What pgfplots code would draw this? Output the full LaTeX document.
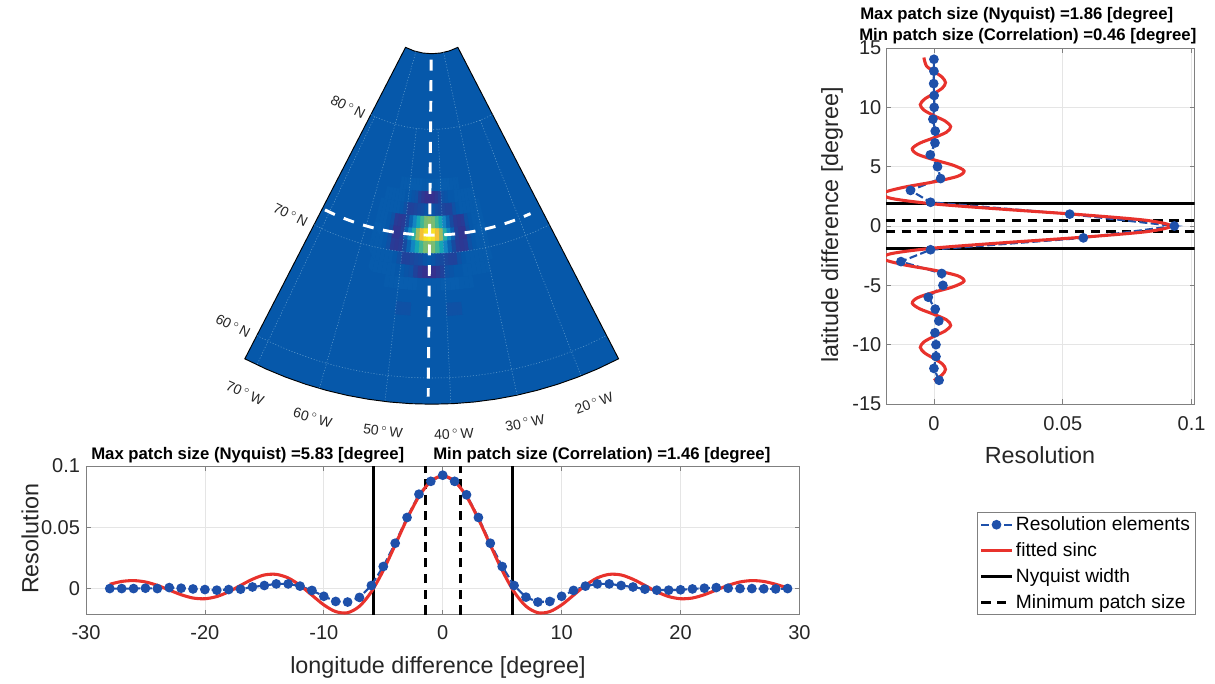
\documentclass[border=0pt]{standalone}
\usepackage{fontspec}
\usepackage{pgfplots}
\usepackage{pgfplotstable}
\pgfplotsset{compat=1.18}
\setmainfont{Liberation Sans}
\definecolor{mapbg}{RGB}{6,88,170}
\definecolor{bluedot}{RGB}{30,80,170}
\definecolor{fitred}{RGB}{232,50,44}
\definecolor{ticktxt}{RGB}{38,38,38}
\definecolor{gridblue}{RGB}{95,155,205}
\pgfplotsset{table/x index=0,table/y index=0}
\pgfplotsset{colormap={heat}{rgb255(0cm)=(58,45,140); rgb255(1.2cm)=(6,88,170); rgb255(2.6cm)=(20,125,195); rgb255(3.9cm)=(10,160,190); rgb255(5.2cm)=(45,180,160); rgb255(6.5cm)=(130,190,110); rgb255(7.8cm)=(205,185,75); rgb255(9.1cm)=(250,195,50); rgb255(10.4cm)=(248,240,30)}}
\pgfplotstableread[row sep=\\]{t\\-27.3\\-24\\-21\\-18\\-15\\-12\\-9\\-6\\-3\\0\\3\\6\\9\\12\\15\\18\\21\\24\\27.3\\}\arcT
\pgfplotstableread[row sep=\\]{t r\\
-27.3 407.5\\-24 407.5\\-21 407.5\\-18 407.5\\-15 407.5\\-12 407.5\\-9 407.5\\-6 407.5\\-3 407.5\\0 407.5\\3 407.5\\6 407.5\\9 407.5\\12 407.5\\15 407.5\\18 407.5\\21 407.5\\24 407.5\\27.3 407.5\\
27.3 57\\18 57\\9 57\\0 57\\-9 57\\-18 57\\-27.3 57\\}\sectorT
\pgfplotstableread[row sep=\\]{c\\
0\\0\\0\\0\\0\\0\\0\\0\\0\\0\\0\\0\\0\\0\\0\\0\\0\\0\\0\\0\\0\\0\\0\\0\\0\\0\\0\\0\\0\\
0\\0\\0\\0\\0\\1\\1\\1\\2\\2\\2\\2\\1\\1\\1\\1\\1\\2\\2\\2\\2\\1\\1\\1\\0\\0\\0\\0\\0\\
0\\1\\1\\1\\1\\1\\1\\0\\0\\-1\\-2\\-6\\-9\\-11\\-11\\-11\\-9\\-6\\-2\\-1\\0\\0\\1\\1\\1\\1\\1\\1\\0\\
1\\1\\1\\1\\1\\1\\0\\-2\\-6\\-6\\-5\\-4\\-3\\-1\\0\\-1\\-3\\-4\\-5\\-6\\-6\\-2\\0\\1\\1\\1\\1\\1\\1\\
1\\1\\1\\0\\-2\\-8\\-9\\-8\\-4\\4\\17\\31\\43\\52\\55\\52\\43\\31\\17\\4\\-4\\-8\\-9\\-8\\-2\\0\\1\\1\\1\\
2\\2\\1\\0\\-3\\-10\\-10\\-7\\3\\18\\37\\58\\77\\87\\92\\87\\77\\58\\37\\18\\3\\-7\\-10\\-10\\-3\\0\\1\\2\\2\\
1\\1\\1\\0\\-2\\-8\\-9\\-8\\-4\\4\\17\\31\\43\\52\\55\\52\\43\\31\\17\\4\\-4\\-8\\-9\\-8\\-2\\0\\1\\1\\1\\
1\\1\\1\\1\\1\\1\\0\\-2\\-6\\-6\\-5\\-4\\-3\\-1\\0\\-1\\-3\\-4\\-5\\-6\\-6\\-2\\0\\1\\1\\1\\1\\1\\1\\
0\\1\\1\\1\\1\\1\\1\\0\\0\\-1\\-2\\-6\\-9\\-11\\-11\\-11\\-9\\-6\\-2\\-1\\0\\0\\1\\1\\1\\1\\1\\1\\0\\
0\\0\\0\\0\\0\\1\\1\\1\\2\\2\\2\\2\\1\\1\\1\\1\\1\\2\\2\\2\\2\\1\\1\\1\\0\\0\\0\\0\\0\\
0\\0\\0\\0\\0\\0\\0\\0\\0\\0\\0\\0\\0\\0\\0\\0\\0\\0\\0\\0\\0\\0\\0\\0\\0\\0\\0\\0\\0\\
0\\0\\0\\0\\0\\0\\0\\0\\-2\\-2\\-2\\0\\0\\0\\0\\0\\0\\0\\-2\\-2\\-2\\0\\0\\0\\0\\0\\0\\0\\0\\
}\heatT
\pgfplotsset{
  sub/.style={
    scale only axis, tick align=inside, tick style={gray,line width=.5pt}, major tick length=3.5pt,
    axis line style={gray,line width=.7pt}, grid=major, grid style={black!10,line width=.5pt},
    scaled ticks=false, clip=true, axis on top=false, tick label style={font=\fontsize{15}{18}\selectfont,text=ticktxt},
  },
  bl/.style={bluedot,line width=1.6pt,dash pattern=on 6pt off 2.5pt,mark=*,mark size=2.8pt,mark options={solid,fill=bluedot,draw=bluedot}},
  rd/.style={fitred,line width=2.3pt,smooth},
  ny/.style={black,line width=2.3pt},
  mn/.style={black,line width=2.3pt,dash pattern=on 7pt off 4.8pt},
}
\newcommand\lf{\fontsize{17.5}{21}\selectfont\color{ticktxt}}
\newcommand\mapmark[4]{\node[rotate=#3,font=\fontsize{10.5}{12}\selectfont,text=ticktxt,inner sep=0pt] at (axis cs:#1,#2) {#4};}
\newcommand\ttl[3]{\node[anchor=west,font=\fontsize{12.55}{15}\bfseries\selectfont,inner sep=0pt] at (axis cs:#1,#2) {#3};}
\begin{document}
\begin{tikzpicture}
\useasboundingbox (0,0) rectangle (911.25pt,-512.25pt);
\begin{axis}[at={(0pt,0pt)},anchor=north west,scale only axis,width=911.25pt,height=512.25pt,
  xmin=0,xmax=1215,ymin=0,ymax=683,y dir=reverse,hide axis,clip=false,colormap name=heat,point meta min=-12,point meta max=92]
\addplot[fill=mapbg,draw=black,line width=.7pt] table[x expr={431.7+\thisrow{r}*sin(\thisrow{t})},y expr={-3.3+\thisrow{r}*cos(\thisrow{t})}] {\sectorT} -- cycle;
\addplot[matrix plot,mesh/cols=29,point meta=\thisrow{c}] table[
  x expr={431.7+(238.3-12.45*(5-floor(\coordindex/29)))*sin(-0.5+0.938*(mod(\coordindex,29)-14))},
  y expr={-3.3+(238.3-12.45*(5-floor(\coordindex/29)))*cos(-0.5+0.938*(mod(\coordindex,29)-14))}] {\heatT};
\pgfplotsinvokeforeach{132.6,256.6,381.3}{
  \addplot[gridblue,line width=.4pt,dash pattern=on .8pt off 1.4pt,smooth] table[x expr={431.7+#1*sin(\thisrow{t})},y expr={-3.3+#1*cos(\thisrow{t})}] {\arcT};
}
\pgfplotsinvokeforeach{-25.4,-6.6,2.7,21.5}{
  \addplot[gridblue,line width=.4pt,dash pattern=on .8pt off 1.4pt] table[x expr={431.7+\thisrow{r}*sin(#1)},y expr={-3.3+\thisrow{r}*cos(#1)},row sep=\\] {r\\132.6\\407.5\\};
}
\pgfplotsinvokeforeach{-16,12.1}{
  \addplot[gridblue,line width=.4pt,dash pattern=on .8pt off 1.4pt] table[x expr={431.7+\thisrow{r}*sin(#1)},y expr={-3.3+\thisrow{r}*cos(#1)},row sep=\\] {r\\57\\407.5\\};
}
\addplot[white,line width=2.2pt,dash pattern=on 8.2pt off 7.2pt] table[x expr={431.7+\thisrow{r}*sin(-0.5)},y expr={-3.3+\thisrow{r}*cos(-0.5)},row sep=\\] {r\\63\\400\\};
\addplot[white,line width=2.2pt,dash pattern=on 8.2pt off 7.2pt,smooth] table[x expr={431.7+238.4*sin(\thisrow{t})},y expr={-3.3+238.4*cos(\thisrow{t})},row sep=\\] {t\\-26.6\\-24\\-21\\-18\\-15\\-12\\-9\\-6\\-3\\0\\3\\6\\9\\12\\15\\18\\21\\24.5\\};
\mapmark{348}{107}{-27}{80\,$^\circ$\,N}
\mapmark{290.5}{215}{-27}{70\,$^\circ$\,N}
\mapmark{233}{326}{-27}{60\,$^\circ$\,N}
\mapmark{245}{393}{-24}{70\,$^\circ$\,W}
\mapmark{312.7}{417.7}{-16}{60\,$^\circ$\,W}
\mapmark{383}{431}{-7}{50\,$^\circ$\,W}
\mapmark{454}{434}{2}{40\,$^\circ$\,W}
\mapmark{525}{423}{11}{30\,$^\circ$\,W}
\mapmark{594}{403}{20}{20\,$^\circ$\,W}
\ttl{91}{455}{Max patch size (Nyquist) =5.83 [degree]}
\ttl{433}{455}{Min patch size (Correlation) =1.46 [degree]}
\ttl{860}{15}{Max patch size (Nyquist) =1.86 [degree]}
\ttl{859}{36}{Min patch size (Correlation) =0.46 [degree]}
\end{axis}

\begin{axis}[sub,at={(64.5pt,-349.5pt)},anchor=north west,width=535.1pt,height=111.5pt,
  xmin=-30,xmax=30,ymin=-0.0213,ymax=0.1,
  xtick={-30,-20,-10,0,10,20,30},xticklabels={-30,-20,-10,0,10,20,30},
  ytick={0,0.05,0.1},yticklabels={0,0.05,0.1},
  xticklabel style={yshift=-4.5pt},yticklabel style={xshift=-1pt},
  xlabel={\lf longitude difference [degree]},ylabel={\lf Resolution},
  every axis x label/.style={at={(axis description cs:0.4933,-0.352)},anchor=center},
  every axis y label/.style={at={(axis description cs:-0.0785,0.51)},rotate=90,anchor=center}]
\addplot[ny] coordinates {(-5.83,-0.0213)(-5.83,0.1)};
\addplot[ny] coordinates {(5.83,-0.0213)(5.83,0.1)};
\addplot[mn] coordinates {(-1.46,-0.0213)(-1.46,0.1)};
\addplot[mn] coordinates {(1.46,-0.0213)(1.46,0.1)};
\addplot[bl] coordinates {(-28,0)(-27,0)(-26,0)(-25,.0003)(-24,0)(-23,.0008)(-22,.0003)(-21,-.0003)(-20,-.0008)(-19,-.0013)(-18,-.0008)(-17,-.0005)(-16,.0013)(-15,.0025)(-14,.0038)(-13,.0038)(-12,.002)(-11,-.0015)(-10,-.0063)(-9,-.0105)(-8,-.011)(-7,-.0072)(-6,.0025)(-5,.018)(-4,.037)(-3,.058)(-2,.077)(-1,.0875)(0,.0925)(1,.0875)(2,.0765)(3,.058)(4,.037)(5,.018)(6,.0025)(7,-.007)(8,-.011)(9,-.0105)(10,-.0063)(11,-.0015)(12,.002)(13,.0038)(14,.0038)(15,.0025)(16,.0013)(17,-.0005)(18,-.0013)(19,-.0013)(20,-.001)(21,-.0003)(22,.0003)(23,.0008)(24,.0003)(25,0)(26,0)(27,-.0002)(28,-.0003)(29,0)};
\addplot[rd] coordinates {(-28,.0035)(-27,.0058)(-26,.0065)(-25,.0054)(-24,.0026)(-23,-.0012)(-22,-.005)(-21,-.0077)(-20,-.0083)(-19,-.0065)(-18,-.0026)(-17,.0026)(-16,.0076)(-15,.0111)(-14,.0116)(-13,.0087)(-12,.0026)(-11,-.0054)(-10,-.0133)(-9,-.0188)(-8,-.0197)(-7,-.0144)(-6,-.0026)(-5,.0148)(-4,.0356)(-3,.0568)(-2,.0752)(-1,.0876)(0,.092)(1,.0876)(2,.0752)(3,.0568)(4,.0356)(5,.0148)(6,-.0026)(7,-.0144)(8,-.0197)(9,-.0188)(10,-.0133)(11,-.0054)(12,.0026)(13,.0087)(14,.0116)(15,.0111)(16,.0076)(17,.0026)(18,-.0026)(19,-.0065)(20,-.0083)(21,-.0077)(22,-.005)(23,-.0012)(24,.0026)(25,.0054)(26,.0065)(27,.0058)(28,.0035)(29,.0005)};
\end{axis}

\begin{axis}[sub,at={(664.5pt,-36pt)},anchor=north west,width=231.5pt,height=267pt,
  xmin=-0.0186,xmax=0.1012,ymin=-15,ymax=15,
  xtick={0,0.05,0.1},xticklabels={0,0.05,0.1},
  ytick={-15,-10,-5,0,5,10,15},yticklabels={-15,-10,-5,0,5,10,15},
  xticklabel style={yshift=-5.5pt},
  xlabel={\lf Resolution},ylabel={\lf latitude difference [degree]},
  every axis x label/.style={at={(axis description cs:0.499,-0.143)},anchor=center},
  every axis y label/.style={at={(axis description cs:-0.175,0.503)},rotate=90,anchor=center},
  legend style={at={(0.2938,-0.3025)},anchor=north west,draw=gray,line width=.6pt,font=\fontsize{14.4}{16}\selectfont,cells={anchor=west},inner xsep=2pt,inner ysep=1.5pt,row sep=3.4pt},
  legend image code/.code={\draw[mark repeat=2,mark phase=2,#1] plot coordinates {(0cm,0cm)(0.4cm,0cm)(0.8cm,0cm)};}]
\addlegendimage{bl}
\addlegendentry{Resolution elements}
\addlegendimage{fitred,line width=2.4pt}
\addlegendentry{fitted sinc}
\addlegendimage{ny}
\addlegendentry{Nyquist width}
\addlegendimage{mn}
\addlegendentry{Minimum patch size}
\addplot[ny,forget plot] coordinates {(-0.0186,1.86)(0.1012,1.86)};
\addplot[ny,forget plot] coordinates {(-0.0186,-1.86)(0.1012,-1.86)};
\addplot[mn,forget plot] coordinates {(-0.0186,.46)(0.1012,.46)};
\addplot[mn,forget plot] coordinates {(-0.0186,-.46)(0.1012,-.46)};
\addplot[bl,forget plot] coordinates {(.002,-13)(0,-12)(.0008,-11)(.0008,-10)(.0004,-9)(.0019,-8)(.0005,-7)(-.0022,-6)(.0035,-5)(.003,-4)(-.0128,-3)(-.0013,-2)(.058,-1)(.0933,0)(.0527,1)(-.0013,2)(-.0091,3)(.0026,4)(.0014,5)(-.0014,6)(.0004,7)(.0005,8)(-.0004,9)(.0001,10)(.0001,11)(-.0001,12)(0,13.05)(0,14.05)};
\addplot[rd,forget plot] coordinates {(0,-13.02)(.0031,-12.56)(.0045,-12.09)(.0033,-11.63)(0,-11.16)(-.0036,-10.7)(-.0053,-10.23)(-.0039,-9.77)(0,-9.3)(.0044,-8.84)(.0065,-8.37)(.0049,-7.91)(0,-7.44)(-.0055,-6.98)(-.0084,-6.51)(-.0064,-6.05)(0,-5.58)(.0075,-5.12)(.0117,-4.65)(.0092,-4.19)(0,-3.72)(-.0118,-3.26)(-.0195,-2.79)(-.0166,-2.33)(0,-1.86)(.0276,-1.4)(.0586,-.93)(.0828,-.47)(.092,0)(.0828,.47)(.0586,.93)(.0276,1.4)(0,1.86)(-.0166,2.33)(-.0195,2.79)(-.0118,3.26)(0,3.72)(.0092,4.19)(.0117,4.65)(.0075,5.12)(0,5.58)(-.0064,6.05)(-.0084,6.51)(-.0055,6.98)(0,7.44)(.0049,7.91)(.0065,8.37)(.0044,8.84)(0,9.3)(-.0039,9.77)(-.0053,10.23)(-.0036,10.7)(0,11.16)(.0033,11.63)(.0045,12.09)(.0031,12.56)(0,13.02)(-.0029,13.49)(-.0039,14.2)};
\end{axis}
\end{tikzpicture}
\end{document}
